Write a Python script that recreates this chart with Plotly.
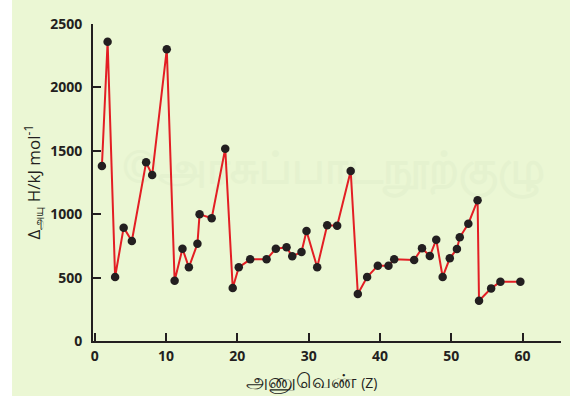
import plotly.graph_objects as go

# Atomic number (as plotted) and first ionisation enthalpy, kJ/mol
atomic_number = [1.0, 1.8, 2.85, 4.05, 5.2, 7.2, 8.05, 10.1, 11.2, 12.3, 13.2, 14.4,
                 14.7, 16.4, 18.3, 19.35, 20.2, 21.8, 24.1, 25.4, 26.9, 27.7, 29.0,
                 29.7, 31.2, 32.6, 34.0, 35.9, 36.9, 38.2, 39.7, 41.2, 42.0, 44.8,
                 45.9, 47.0, 47.9, 48.8, 49.8, 50.8, 51.2, 52.4, 53.7, 53.9, 55.6,
                 56.9, 59.7]
ionisation_enthalpy = [1380, 2360, 505, 894, 789, 1409, 1309, 2300, 476, 728, 581, 767,
                       999, 968, 1517, 418, 581, 644, 644, 728, 739, 668, 702,
                       867, 581, 912, 909, 1341, 371, 505, 594, 594, 644, 639,
                       731, 670, 799, 505, 652, 726, 818, 925, 1110, 318, 415,
                       468, 468]

x_ticks = [0, 10, 20, 30, 40, 50, 60]
y_ticks = [0, 500, 1000, 1500, 2000, 2500]

x_title = "அணுவெண் <span style='font-size:14px'>(Z)</span>"
y_title = "Δ<sub>அயு</sub> H/kJ mol<sup>-1</sup>"
watermark = "©அரசுப்பாடநூற்குழு"

ink = "#231f20"
panel = "#ebf7d4"

fig = go.Figure()

# faint watermark sits underneath the data
fig.add_trace(go.Scatter(
    x=[33.5], y=[1330], mode="text", text=[watermark],
    textfont=dict(size=44, color="#e5f2cf", family="Noto Sans, sans-serif",
                  weight="bold"),
    hoverinfo="skip", showlegend=False,
))

fig.add_trace(go.Scatter(
    x=atomic_number, y=ionisation_enthalpy, mode="lines+markers",
    line=dict(color="#e31e24", width=2),
    marker=dict(color=ink, size=8.5),
    hoverinfo="x+y", showlegend=False,
))

axis_common = dict(
    showline=True, linecolor=ink, linewidth=2, ticks="inside", ticklen=8,
    tickwidth=2, tickcolor=ink, showgrid=False, zeroline=False,
    tickfont=dict(family="Open Sans, Liberation Sans, sans-serif", size=14,
                  color=ink, weight="bold"),
)

fig.update_layout(
    width=575, height=400,
    margin=dict(l=93, r=14, t=24, b=59),
    paper_bgcolor="white", plot_bgcolor="rgba(0,0,0,0)",
    xaxis=dict(range=[-0.25, 65.4], tickvals=x_ticks, ticklabelstandoff=1,
               **axis_common),
    yaxis=dict(range=[0, 2500], tickvals=y_ticks, ticklabelstandoff=6,
               **axis_common),
    shapes=[dict(type="rect", xref="paper", yref="paper", layer="below",
                 x0=-0.173, x1=1.0192, y0=-0.1735, y1=1.0757,
                 fillcolor=panel, line=dict(width=0))],
    annotations=[
        dict(text=x_title, xref="paper", yref="paper", x=0.466, y=-0.125,
             xanchor="center", yanchor="middle", showarrow=False,
             font=dict(size=20, color=ink, family="Open Sans, Noto Sans, sans-serif")),
        dict(text=y_title, xref="paper", yref="paper", x=-0.128, y=0.5,
             xanchor="center", yanchor="middle", textangle=-90, showarrow=False,
             font=dict(size=17, color=ink, family="Open Sans, Noto Sans, sans-serif")),
    ],
)

fig.write_html("out.html")
